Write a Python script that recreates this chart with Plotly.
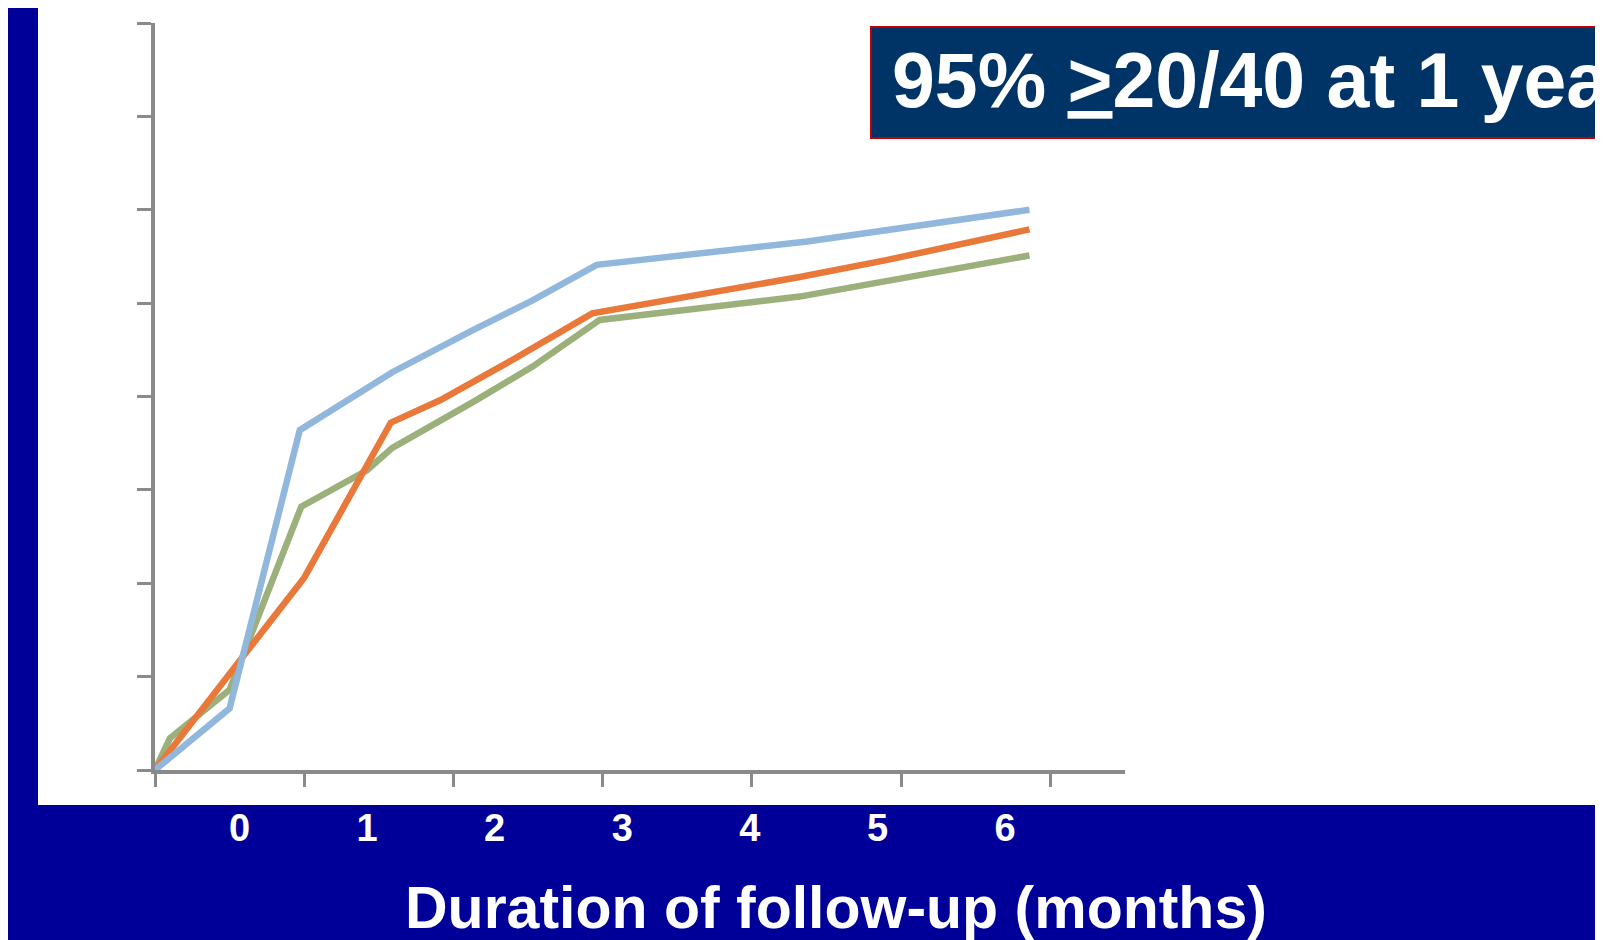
import plotly.graph_objects as go

# ---- data (x in axis-tick units, y in axis units 0-80) ----
blue_x = [0, 0.50, 0.97, 1.29, 1.59, 2.13, 2.53, 2.96, 4.37, 5.86]
blue_y = [0, 6.6, 36.4, 39.6, 42.6, 47.1, 50.3, 54.1, 56.6, 60.0]

orange_x = [0, 0.50, 1.00, 1.58, 1.91, 2.36, 2.93, 4.32, 4.90, 5.86]
orange_y = [0, 10.4, 20.6, 37.2, 39.6, 43.6, 48.9, 52.8, 54.6, 57.9]

green_x = [0, 0.10, 0.50, 0.98, 1.42, 1.59, 2.13, 2.53, 2.98, 4.32, 5.86]
green_y = [0, 3.4, 8.6, 28.2, 32.1, 34.5, 39.4, 43.2, 48.2, 50.7, 55.1]

tick_vals = [0, 1, 2, 3, 4, 5, 6]
tick_text = ["0", "1", "2", "3", "4", "5", "6"]

x_title = "Duration of follow-up (months)"
box_text = "95% <u>></u>20/40 at 1 year"

FONT = "Liberation Sans, Arial, sans-serif"
BG = "#000099"
AXIS = "#8a8a8a"

fig = go.Figure()
for xs, ys, col in [(green_x, green_y, "#9bb07a"),
                    (orange_x, orange_y, "#e8793a"),
                    (blue_x, blue_y, "#92b7dc")]:
    fig.add_trace(go.Scatter(x=xs, y=ys, mode="lines",
                             line=dict(color=col, width=6.5),
                             hoverinfo="skip", showlegend=False))

# carrier trace so the label axis is drawn (no visible marks)
fig.add_trace(go.Scatter(x=tick_vals, y=[None] * len(tick_vals),
                         xaxis="x2", mode="lines", hoverinfo="skip",
                         showlegend=False))

OFF = 8  # page body margin
W, H = 1603 - OFF, 940 - OFF
PL, PT, PW, PH = 155, 23, 970, 747   # plot area in reference pixels
L, T = PL - OFF, PT - OFF
R, B = W - L - PW, H - T - PH


def px(xp):
    return (xp - PL) / PW


def py(yp):
    return (PT + PH - yp) / PH


fig.update_layout(
    width=W, height=H,
    margin=dict(l=L, r=R, t=T, b=B, pad=0),
    paper_bgcolor=BG, plot_bgcolor="white",
    showlegend=False,
    xaxis=dict(range=[0, 6.5], tickmode="array", tickvals=tick_vals,
               ticks="outside", ticklen=13, tickwidth=3, tickcolor=AXIS,
               showticklabels=False, showline=True, linecolor=AXIS,
               linewidth=4, showgrid=False, zeroline=False),
    yaxis=dict(range=[0, 80], dtick=10, tick0=0,
               ticks="outside", ticklen=14, tickwidth=3, tickcolor=AXIS,
               showticklabels=False, showline=True, linecolor=AXIS,
               linewidth=4, showgrid=False, zeroline=False),
    xaxis2=dict(overlaying="x", anchor="y", side="bottom",
                range=[-0.662, 6.94], tickmode="array", tickvals=tick_vals,
                ticktext=tick_text, ticks="", showline=False,
                showgrid=False, zeroline=False, ticklabelstandoff=32,
                tickfont=dict(family=FONT, size=38, color="white",
                              weight="bold")),
    shapes=[
        dict(type="rect", xref="paper", yref="paper", layer="below",
             x0=px(38), x1=px(1700), y0=py(805), y1=py(0),
             fillcolor="white", line=dict(width=0)),
        dict(type="rect", xref="paper", yref="paper", layer="above",
             x0=px(871), x1=px(1700), y0=py(138), y1=py(27),
             fillcolor="#003366", line=dict(color="#c00000", width=2)),
    ],
    annotations=[
        dict(text="<b>" + box_text + "</b>", xref="paper", yref="paper",
             x=px(890), y=py(80), xanchor="left", yanchor="middle",
             showarrow=False,
             font=dict(family=FONT, size=77, color="white")),
        dict(text="<b>" + x_title + "</b>", xref="paper", yref="paper",
             x=px(836), y=py(908), xanchor="center", yanchor="middle",
             showarrow=False,
             font=dict(family=FONT, size=59, color="white")),
    ],
)

fig.write_html("out.html")
